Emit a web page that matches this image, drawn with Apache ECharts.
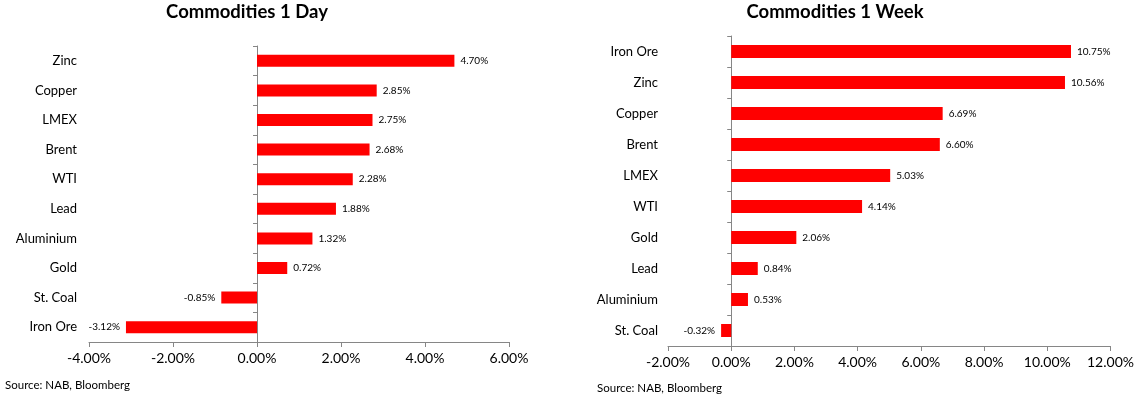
<!DOCTYPE html>
<html>
<head>
<meta charset="utf-8">
<script src="https://cdn.jsdelivr.net/npm/echarts@6/dist/echarts.min.js"></script>
<style>
html,body{margin:0;padding:0;background:#fff;}
#main{width:1137px;height:399px;}
</style>
</head>
<body>
<div id="main"></div>
<script>
// Commodities 1 Day
var dayNames = ['Zinc','Copper','LMEX','Brent','WTI','Lead','Aluminium','Gold','St. Coal','Iron Ore'];
var dayValues = [4.70,2.85,2.75,2.68,2.28,1.88,1.32,0.72,-0.85,-3.12];
// Commodities 1 Week
var weekNames = ['Iron Ore','Zinc','Copper','Brent','LMEX','WTI','Gold','Lead','Aluminium','St. Coal'];
var weekValues = [10.75,10.56,6.69,6.60,5.03,4.14,2.06,0.84,0.53,-0.32];

var font = 'Lato, "Open Sans", sans-serif';
var axisGrey = '#868686';

function pct(v){ return v.toFixed(2) + '%'; }

function labelData(vals){
    var out = [];
    for (var i=0;i<vals.length;i++){
        out.push({
            value: vals[i],
            label: {position: vals[i] < 0 ? 'left' : 'right'}
        });
    }
    return out;
}

function xAxisFor(idx, min, max){
    return {
        type:'value', gridIndex:idx, min:min, max:max, interval:2,
        axisLine:{show:true, onZero:false, lineStyle:{color:axisGrey, width:1}},
        axisTick:{show:true, length:5, lineStyle:{color:axisGrey}},
        splitLine:{show:false},
        axisLabel:{formatter:function(v){return v.toFixed(2)+'%';}, fontFamily:font, fontSize:14, color:'#000', margin:9}
    };
}

function yAxisFor(idx, names){
    return {
        type:'category', gridIndex:idx, data:names, inverse:true,
        axisLine:{show:true, onZero:true, lineStyle:{color:axisGrey, width:1}},
        axisTick:{show:true, length:4, lineStyle:{color:axisGrey}},
        axisLabel:{show:false}
    };
}

// category names sit at the left edge of the grid, not on the zero line
function nameAxisFor(idx, names, margin){
    return {
        type:'category', gridIndex:idx, data:names, inverse:true, position:'left',
        axisLine:{show:false}, axisTick:{show:false},
        axisLabel:{fontFamily:font, fontSize:13, color:'#000', margin:margin}
    };
}

var myChart = echarts.init(document.getElementById('main'));
var option = {
    animation:false,
    title:[
        {text:'Commodities 1 Day', left:247, top:3, textAlign:'center', padding:0,
         textStyle:{fontFamily:font, fontSize:18.5, fontWeight:'bold', color:'#000'}},
        {text:'Commodities 1 Week', left:835, top:3, textAlign:'center', padding:0,
         textStyle:{fontFamily:font, fontSize:18.5, fontWeight:'bold', color:'#000'}},
        {text:'Source: NAB, Bloomberg', left:5, top:379, padding:0,
         textStyle:{fontFamily:font, fontSize:11.5, fontWeight:'normal', color:'#000'}},
        {text:'Source: NAB, Bloomberg', left:597, top:382, padding:0,
         textStyle:{fontFamily:font, fontSize:11.5, fontWeight:'normal', color:'#000'}}
    ],
    grid:[
        {left:89, width:420, top:46, height:296},
        {left:668, width:463, top:36, height:310}
    ],
    xAxis:[ xAxisFor(0,-4,6), xAxisFor(1,-2,12) ],
    yAxis:[
        yAxisFor(0, dayNames),
        yAxisFor(1, weekNames),
        nameAxisFor(0, dayNames, 12),
        nameAxisFor(1, weekNames, 10)
    ],
    series:[
        {
            type:'bar', xAxisIndex:0, yAxisIndex:0, barWidth:12,
            data:labelData(dayValues),
            itemStyle:{color:'#ff0000'},
            label:{show:true, formatter:function(p){return pct(p.value);}, fontFamily:font, fontSize:10, color:'#000', distance:6}
        },
        {
            type:'bar', xAxisIndex:1, yAxisIndex:1, barWidth:13,
            data:labelData(weekValues),
            itemStyle:{color:'#ff0000'},
            label:{show:true, formatter:function(p){return pct(p.value);}, fontFamily:font, fontSize:10, color:'#000', distance:6}
        }
    ]
};
myChart.setOption(option);
</script>
</body>
</html>
